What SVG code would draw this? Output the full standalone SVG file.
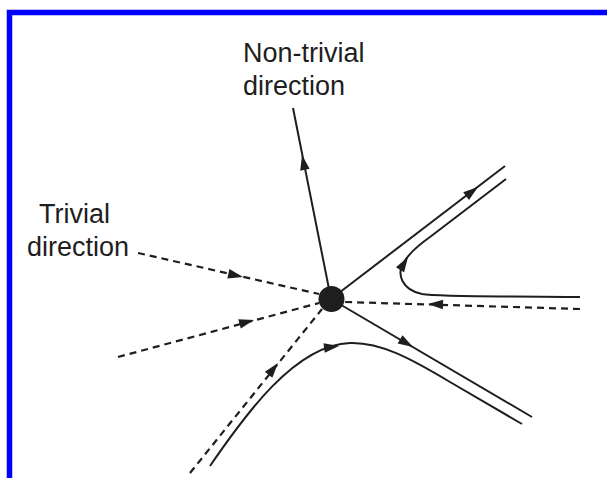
<svg xmlns="http://www.w3.org/2000/svg" xmlns:xlink="http://www.w3.org/1999/xlink" width="607" height="478" viewBox="0 0 607 478">
<style>
.lbl{font-family:"Liberation Sans",Arial,sans-serif;font-size:27px;fill:#1e1e1e}
.sol{fill:none;stroke:#1e1e1e;stroke-width:2}
.dsh{fill:none;stroke:#1e1e1e;stroke-width:2.2;stroke-dasharray:7 5}
.ah{fill:#1e1e1e}
</style>
<defs>
<path id="ah" d="M0,0 L-15,-4.8 L-15,4.8 Z"/>
</defs>
<rect x="0" y="0" width="607" height="478" fill="#ffffff"/>
<rect x="9.5" y="12.5" width="700" height="600" fill="none" stroke="#0000ff" stroke-width="5.5"/>
<g id="label-nontrivial">
<text class="lbl" x="243" y="62">Non-trivial</text>
<text class="lbl" x="243" y="95">direction</text>
</g>
<g id="label-trivial">
<text class="lbl" x="39" y="223">Trivial</text>
<text class="lbl" x="27" y="256">direction</text>
</g>
<g id="connectors">
<path class="sol" d="M331 299 L293 108"/>
<path class="sol" d="M331 299 L505 166"/>
<path class="sol" d="M331 299 L532 417"/>
<path class="sol" d="M580 297 C500 296 440 297 422 294 C402 290 396 274 404 262 C410 252 420 244 430 237 L506 179"/>
<path class="sol" d="M210 466 C245 415 295 345 350 343 C380 342 410 358 450 382 L522 424"/>
<path class="dsh" d="M138 253 L319 294"/>
<path class="dsh" d="M118 357 L319 303"/>
<path class="dsh" d="M190 473 L322 309"/>
<path class="dsh" d="M580 309 L345 302"/>
<use class="ah" xlink:href="#ah" transform="translate(302 155) rotate(-101.25)"/>
<use class="ah" xlink:href="#ah" transform="translate(478 187) rotate(-37.4)"/>
<use class="ah" xlink:href="#ah" transform="translate(413 347) rotate(30.4)"/>
<use class="ah" xlink:href="#ah" transform="translate(428 304) rotate(181.7)"/>
<use class="ah" xlink:href="#ah" transform="translate(243 277) rotate(12.7)"/>
<use class="ah" xlink:href="#ah" transform="translate(254 320) rotate(-15.2)"/>
<use class="ah" xlink:href="#ah" transform="translate(278 363) rotate(-51.3)"/>
<use class="ah" xlink:href="#ah" transform="translate(408 257) rotate(-58)"/>
<use class="ah" xlink:href="#ah" transform="translate(339 346) rotate(-8)"/>
</g>
<g id="node-center">
<circle cx="331.5" cy="299" r="13" fill="#1e1e1e"/>
</g>
</svg>
